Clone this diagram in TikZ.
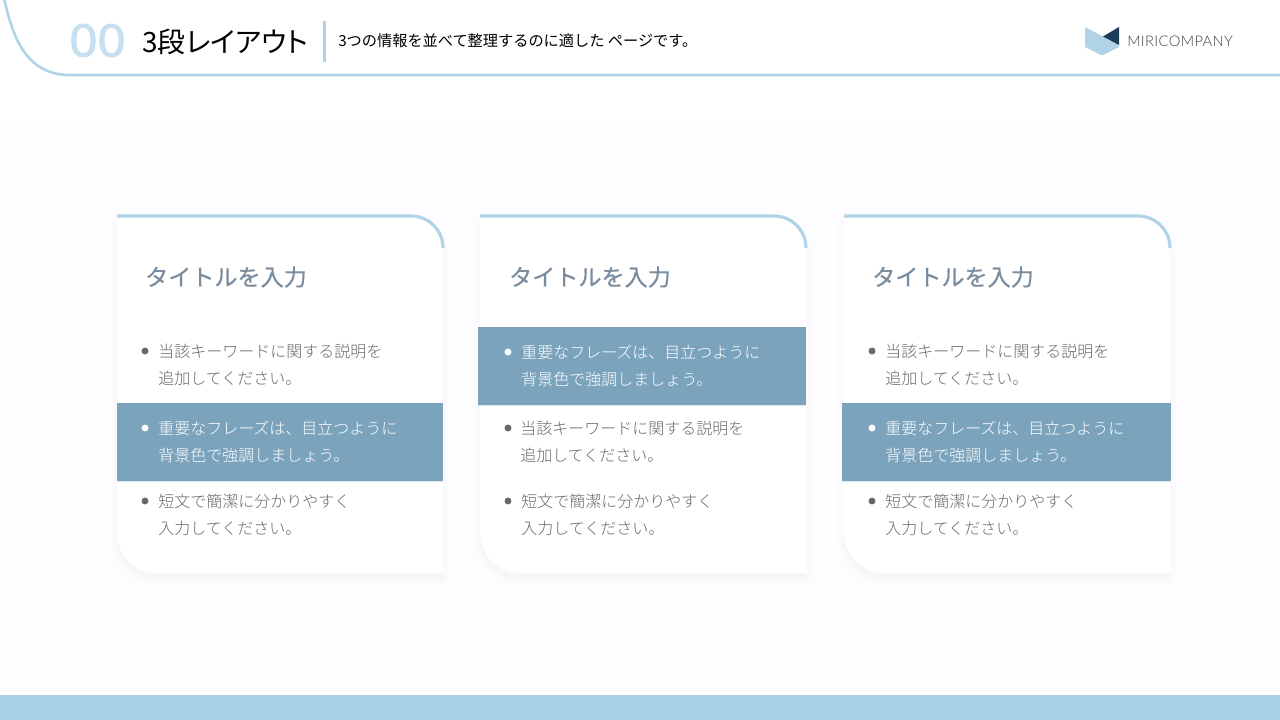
\documentclass[tikz,border=0pt]{standalone}
\usepackage{fontspec}
\setmainfont{Noto Sans CJK JP}
\newfontfamily\jp{Noto Sans CJK JP}
\newfontfamily\jpl{Noto Sans CJK JP Light}
\newfontfamily\jpp{Noto Sans CJK JP}[RawFeature=+palt]
\newfontfamily\jpt{Noto Sans CJK JP}[FakeBold=0.6]
\newfontfamily\lat{Lato Light}[LetterSpace=2.6]
\newfontfamily\numf{Open Sans}[FakeBold=2.5]
\definecolor{linec}{HTML}{B0D3E6}
\definecolor{bandc}{HTML}{A9D2E6}
\definecolor{numc}{HTML}{C6E0F0}
\definecolor{hic}{HTML}{7BA3BC}
\definecolor{hil}{HTML}{DCEAF2}
\definecolor{titlec}{HTML}{7A8D9F}
\definecolor{bodyc}{HTML}{69696F}
\definecolor{bulc}{HTML}{66666C}
\definecolor{shadowc}{HTML}{C9BCE0}
\definecolor{bgc}{HTML}{FEFDFF}
\definecolor{logod}{HTML}{1C3D5A}
\tikzset{
 x=0.75pt,y=-0.75pt,
 txt/.style={inner sep=0pt,anchor=west,font=\jpl\fontsize{12}{14}\selectfont,text=bodyc},
 txtw/.style={txt,text=white},
 ctitle/.style={inner sep=0pt,anchor=west,font=\jpt\fontsize{17.3}{20}\selectfont,text=titlec},
 bul/.style={circle,fill=bulc,inner sep=0pt,minimum size=5.2pt},
 bulw/.style={circle,fill=white,inner sep=0pt,minimum size=5.2pt},
 topline/.style={draw=linec,line width=2.3pt},
}
\newcommand{\card}[1]{%
 \foreach \w in {22,16,10,5}{%
  \draw[shadowc,opacity=0.012,line width=\w*0.75pt,line join=round,fill=shadowc] (#1,222) -- (#1+294,222) arc[start angle=-90,end angle=0,radius=32] -- (#1+326,579) -- (#1+40,579) arc[start angle=90,end angle=180,radius=40] -- cycle;}
 \fill[white] (#1,216) -- (#1+294,216) arc[start angle=-90,end angle=0,radius=32] -- (#1+326,573) -- (#1+40,573) arc[start angle=90,end angle=180,radius=40] -- cycle;
 \draw[topline] (#1,216) -- (#1+294,216) arc[start angle=-90,end angle=0,radius=32];
}
\newcommand{\hiband}[3]{\fill[hil] (#1,#3) rectangle (#2,#3+79); \fill[hic] (#1,#3) rectangle (#2,#3+78);}
\begin{document}
\begin{tikzpicture}
\useasboundingbox (0,0) rectangle (1280,720);
\fill[bgc] (0,0) rectangle (1280,720);
\fill[white] (0,0) rectangle (1280,120);
% header
\draw[linec,line width=1.9pt] (4,-1) .. controls (12,30) and (22,75) .. (70,75) -- (1281,75);
\node[inner sep=0pt,xscale=1.1,font=\numf\fontsize{33.5}{36}\selectfont,text=numc] (num) at (97.5,40.5) {00};
\node[inner sep=0pt,anchor=west,font=\jpp\fontsize{21}{24}\selectfont,text=black] (head) at (142,41.5) {3段レイアウト};
\fill[linec] (323,21) rectangle (325.5,62);
\node[inner sep=0pt,anchor=west,font=\jp\fontsize{11.4}{14}\selectfont,text=black] (sub) at (338,41) {3つの情報を並べて整理するのに適した ページです。};
% logo
\fill[linec] (1085,27) -- (1119,45) -- (1119,47) -- (1102,55.5) -- (1085,47) -- cycle;
\fill[logod] (1119,27) -- (1103,36.5) -- (1119,45) -- cycle;
\node[inner sep=0pt,anchor=west,font=\lat\fontsize{11}{14}\selectfont,text=black!75] (logo) at (1127,41) {MIRICOMPANY};
% footer
\fill[bandc] (0,695) rectangle (1280,720);
% cards
\card{117}
\card{480}
\card{844}
% card 1
\node[ctitle] (t1) at (145,277) {タイトルを入力};
\node[bul] (b11) at (145,351) {};
\node[txt] (a11) at (158,351.5) {当該キーワードに関する説明を};
\node[txt] (a12) at (158,378) {追加してください。};
\hiband{117}{443}{403}
\node[bulw] (b12) at (145,428) {};
\node[txtw] (a13) at (158,428.5) {重要なフレーズは、目立つように};
\node[txtw] (a14) at (158,455) {背景色で強調しましょう。};
\node[bul] (b13) at (145,501) {};
\node[txt] (a15) at (158,501.5) {短文で簡潔に分かりやすく};
\node[txt] (a16) at (158,528) {入力してください。};
% card 2
\node[ctitle] (t2) at (509,277) {タイトルを入力};
\hiband{478}{806}{327}
\node[bulw] (b21) at (508,352) {};
\node[txtw] (a21) at (521,352.5) {重要なフレーズは、目立つように};
\node[txtw] (a22) at (521,379) {背景色で強調しましょう。};
\node[bul] (b22) at (508,428) {};
\node[txt] (a23) at (520,428.5) {当該キーワードに関する説明を};
\node[txt] (a24) at (520,455) {追加してください。};
\node[bul] (b23) at (508,501) {};
\node[txt] (a25) at (521,501.5) {短文で簡潔に分かりやすく};
\node[txt] (a26) at (521,528) {入力してください。};
% card 3
\node[ctitle] (t3) at (872,277) {タイトルを入力};
\node[bul] (b31) at (872,351) {};
\node[txt] (a31) at (885,351.5) {当該キーワードに関する説明を};
\node[txt] (a32) at (885,378) {追加してください。};
\hiband{842}{1171}{403}
\node[bulw] (b32) at (872,428) {};
\node[txtw] (a33) at (885,428.5) {重要なフレーズは、目立つように};
\node[txtw] (a34) at (885,455) {背景色で強調しましょう。};
\node[bul] (b33) at (872,501) {};
\node[txt] (a35) at (885,501.5) {短文で簡潔に分かりやすく};
\node[txt] (a36) at (885,528) {入力してください。};
\end{tikzpicture}
\end{document}
